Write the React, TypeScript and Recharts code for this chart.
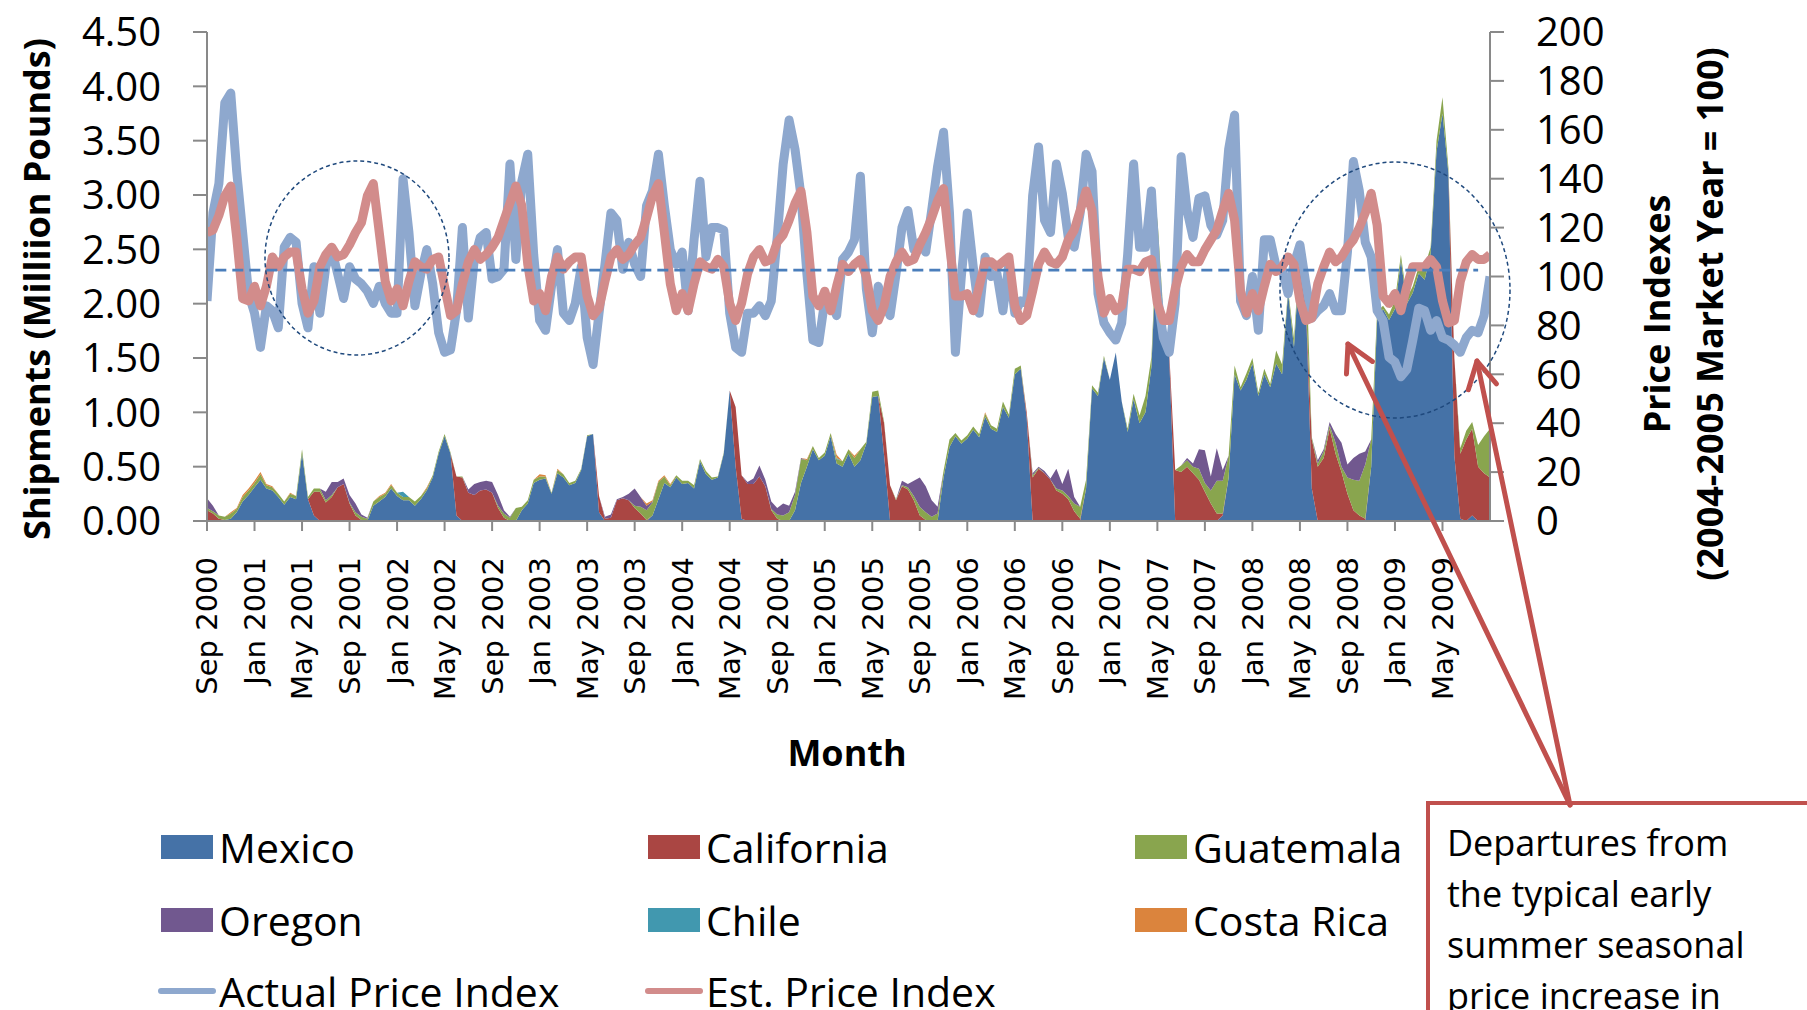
import React from "react";
import { ComposedChart, Area, Line, XAxis, YAxis, ReferenceLine } from "recharts";

// ---------- categories: half-month periods, expressed as months since Sep 2000 ----------
const tickLabels = [
  "Sep 2000", "Jan 2001", "May 2001", "Sep 2001", "Jan 2002", "May 2002", "Sep 2002",
  "Jan 2003", "May 2003", "Sep 2003", "Jan 2004", "May 2004", "Sep 2004", "Jan 2005",
  "May 2005", "Sep 2005", "Jan 2006", "May 2006", "Sep 2006", "Jan 2007", "May 2007",
  "Sep 2007", "Jan 2008", "May 2008", "Sep 2008", "Jan 2009", "May 2009",
];
const tickPositions = tickLabels.map((_, i) => i * 4);
const leftTicks = [0, 0.5, 1, 1.5, 2, 2.5, 3, 3.5, 4, 4.5];
const rightTicks = [0, 20, 40, 60, 80, 100, 120, 140, 160, 180, 200];

// ---------- shipments (million pounds), one row per market year (Sep..Aug, half-months) ----------
const mexico = [
  0,0,0,0.01, 0.02,0.08,0.18,0.24, 0.31,0.38,0.30,0.28, 0.22,0.15,0.22,0.20, 0.62,0.20,0.05,0, 0,0,0,0,
  0,0,0,0, 0.14,0.18,0.22,0.30, 0.23,0.19,0.19,0.14, 0.20,0.28,0.40,0.62, 0.78,0.62,0.05,0, 0,0,0,0,
  0,0,0,0, 0,0.10,0.16,0.35, 0.38,0.39,0.25,0.44, 0.40,0.33,0.35,0.47, 0.78,0.80,0.08,0, 0,0,0,0,
  0,0,0,0.05, 0.20,0.35,0.31,0.40, 0.34,0.35,0.30,0.55, 0.43,0.38,0.40,0.62, 1.20,0.50,0.02,0, 0,0,0,0,
  0,0,0,0.10, 0.35,0.50,0.66,0.56, 0.60,0.78,0.53,0.50, 0.62,0.50,0.56,0.71, 1.14,1.15,0.60,0, 0,0,0,0,
  0,0,0,0, 0.40,0.68,0.78,0.71, 0.76,0.84,0.77,0.96, 0.85,0.82,1.05,0.95, 1.35,1.40,0.95,0, 0,0,0,0,
  0,0,0,0, 0.30,1.22,1.15,1.50, 1.30,1.55,1.10,0.82, 1.12,0.90,1.00,1.42, 2.70,1.90,1.50,0, 0,0,0,0,
  0,0,0,0.05, 0.40,1.35,1.20,1.30, 1.45,1.15,1.35,1.23, 1.45,1.35,2.10,1.60, 2.46,2.00,0.30,0, 0,0,0,0,
  0,0,0,0, 0.50,1.85,1.95,1.85, 1.95,2.40,2.00,2.10, 2.28,2.22,2.46,3.40, 3.75,3.20,0.60,0.02, 0,0.05,0,0,
  0,
];
const california = [
  0.10,0.07,0.02,0, 0,0,0,0, 0,0,0,0, 0,0,0,0, 0,0,0.22,0.27, 0.17,0.22,0.31,0.34,
  0.16,0.05,0.01,0, 0,0,0,0, 0,0,0,0, 0,0,0,0, 0,0,0.36,0.40, 0.26,0.24,0.28,0.29,
  0.26,0.12,0.03,0, 0,0,0,0, 0,0,0,0, 0,0,0,0, 0,0,0.15,0.02, 0.03,0.19,0.21,0.19,
  0.12,0.07,0.01,0, 0,0,0,0, 0,0,0,0, 0,0,0,0, 0,0.55,0.40,0.34, 0.34,0.41,0.32,0.10,
  0.02,0,0,0, 0,0,0,0, 0,0,0,0, 0,0,0,0, 0,0,0.30,0.33, 0.19,0.32,0.29,0.19,
  0.05,0.01,0,0, 0,0,0,0, 0,0,0,0, 0,0,0,0, 0,0,0.05,0.40, 0.48,0.44,0.38,0.28,
  0.25,0.20,0.09,0.02, 0,0,0,0, 0,0,0,0, 0,0,0,0, 0,0,0.05,0.47, 0.45,0.50,0.44,0.38,
  0.27,0.16,0.07,0.02, 0,0,0,0, 0,0,0,0, 0,0,0,0, 0,0,0.45,0.50, 0.58,0.85,0.62,0.45,
  0.25,0.10,0.05,0.02, 0,0,0,0, 0,0,0,0, 0,0,0,0, 0,0,0.90,0.60, 0.75,0.80,0.50,0.44,
  0.40,
];
const guatemala = [
  0.02,0.02,0.03,0.03, 0.05,0.03,0.04,0.04, 0.04,0.05,0.03,0.03, 0.03,0.03,0.03,0.03, 0.04,0.02,0.03,0.03, 0.02,0.02,0,0,
  0.01,0.03,0.03,0.02, 0.04,0.04,0.03,0.03, 0.03,0.03,0.03,0.04, 0.03,0.02,0.02,0.02, 0.02,0.01,0,0.01, 0,0,0,0,
  0,0.02,0.04,0.03, 0.12,0.03,0.03,0.03, 0.03,0.02,0.01,0.03, 0.03,0.02,0.02,0.01, 0.01,0,0,0, 0,0,0,0,
  0.02,0.06,0.09,0.12, 0.16,0.06,0.02,0.02, 0.03,0.02,0.03,0.02, 0.03,0.02,0.01,0.01, 0,0,0,0, 0,0,0,0.01,
  0.04,0.05,0.08,0.14, 0.22,0.06,0.03,0.02, 0.03,0.03,0.04,0.05, 0.04,0.08,0.10,0.02, 0.05,0.05,0.01,0, 0.01,0.01,0.02,0.04,
  0.08,0.07,0.04,0.07, 0.06,0.07,0.03,0.03, 0.03,0.03,0.03,0.03, 0.03,0.03,0.05,0.03, 0.05,0.03,0,0.02, 0.01,0,0,0.02,
  0.03,0.03,0.07,0.11, 0.08,0.03,0.03,0.02, 0,0,0,0.03, 0.05,0.07,0.15,0.09, 0.10,0.02,0,0, 0.06,0.06,0.06,0.10,
  0.08,0.12,0.30,0.30, 0.20,0.08,0.03,0.06, 0.05,0.03,0.05,0.03, 0.12,0.09,0.03,0.08, 0.06,0.45,0.02,0.03, 0.06,0.03,0.10,0.05,
  0.15,0.28,0.32,0.50, 0.25,0.08,0.03,0.05, 0.08,0.05,0.05,0.06, 0.06,0.12,0.06,0.10, 0.15,0.05,0,0.05, 0.08,0.06,0.20,0.34,
  0.45,
];
const oregon = [
  0.09,0.05,0,0, 0,0,0,0, 0,0,0,0, 0,0,0,0, 0,0,0,0, 0.08,0.12,0.05,0.05,
  0.07,0.08,0.02,0.01, 0,0,0,0, 0,0,0,0, 0,0,0,0, 0,0,0,0, 0.03,0.10,0.08,0.08,
  0.10,0.10,0.03,0.01, 0,0,0,0, 0,0,0,0, 0,0,0,0, 0,0,0,0.02, 0.03,0.01,0.01,0.06,
  0.16,0.09,0.04,0.01, 0,0,0,0, 0,0,0,0, 0,0,0,0, 0,0,0,0.02, 0.05,0.10,0.06,0.07,
  0.06,0.11,0.06,0.03, 0.01,0,0,0, 0,0,0,0, 0,0,0,0, 0,0,0,0, 0,0.04,0.03,0.14,
  0.27,0.24,0.15,0.06, 0,0,0,0, 0,0,0,0, 0,0,0,0, 0,0,0,0.02, 0.01,0.02,0.01,0.18,
  0.06,0.25,0.06,0, 0,0,0,0, 0,0,0,0, 0,0,0,0, 0,0,0,0, 0,0.02,0.03,0.18,
  0.30,0.13,0.30,0.10, 0,0,0,0, 0,0,0,0, 0,0,0,0, 0,0,0,0.03, 0.02,0.03,0.08,0.22,
  0.12,0.20,0.25,0.12, 0,0,0,0, 0,0,0,0, 0,0,0,0, 0,0,0,0, 0,0,0,0,
  0,
];
const chile = [
  0,0,0,0, 0,0,0,0, 0,0,0,0, 0,0,0,0, 0,0,0,0, 0,0,0,0,
  0,0,0,0, 0,0,0,0, 0,0.05,0,0, 0,0,0,0, 0,0,0,0, 0,0,0,0,
  0,0,0,0, 0,0,0,0, 0,0,0,0, 0,0,0,0, 0,0,0,0, 0,0,0,0,
  0,0,0,0, 0,0,0,0, 0,0,0,0, 0,0,0,0, 0,0,0,0, 0,0,0,0,
  0,0,0,0, 0,0,0,0, 0,0,0.01,0, 0,0,0,0, 0,0,0,0, 0,0,0,0,
  0,0,0,0, 0,0,0,0, 0,0,0,0, 0,0,0,0, 0,0,0,0, 0,0,0,0,
  0,0,0,0, 0,0,0,0, 0,0,0,0, 0,0,0,0, 0,0,0,0, 0,0,0,0,
  0,0,0,0, 0,0,0,0, 0,0,0,0, 0,0,0,0, 0,0,0,0, 0,0,0,0,
  0,0,0,0, 0,0,0,0, 0,0,0,0, 0,0,0,0, 0,0,0,0, 0,0,0,0,
  0,
];
const costaRica = [
  0,0,0,0, 0.01,0.01,0.02,0.02, 0.02,0.02,0.01,0.01, 0,0,0.01,0, 0,0,0,0, 0,0,0,0,
  0,0,0,0, 0,0.01,0.01,0.01, 0,0,0,0, 0,0.01,0,0, 0,0,0,0, 0,0,0,0,
  0,0,0,0, 0,0,0,0, 0.02,0.01,0,0.01, 0,0,0,0, 0,0,0,0, 0,0,0,0,
  0,0,0.02,0.01, 0.01,0.01,0.01,0, 0,0,0,0, 0,0,0,0, 0,0,0,0, 0,0,0,0,
  0,0,0,0, 0,0.01,0,0, 0,0,0.03,0, 0,0.02,0,0, 0,0,0,0, 0,0,0,0,
  0,0,0,0, 0,0,0,0, 0,0,0,0.01, 0,0,0,0, 0,0,0,0, 0,0,0,0,
  0,0,0,0, 0,0,0,0, 0,0,0,0, 0,0,0,0, 0,0,0,0, 0,0,0,0,
  0,0,0,0, 0,0,0,0, 0,0,0,0, 0,0,0,0, 0,0,0,0, 0,0,0,0,
  0,0,0,0, 0,0,0,0, 0,0,0,0, 0,0,0,0, 0,0,0,0, 0,0,0,0,
  0,
];

// ---------- price indexes (2004-2005 market year = 100) ----------
const actualIndex = [
  90,126,138,171, 175,143,118,93, 85,71,88,86, 79,112,116,114, 89,79,104,85, 104,111,101,91,
  104,99,97,94, 89,96,89,85, 85,140,118,88, 101,111,97,77, 69,70,86,120, 83,107,116,118,
  99,100,103,146, 107,139,150,109, 82,78,96,111, 85,82,89,104, 75,64,85,105, 126,123,103,114,
  105,100,129,135, 150,129,111,105, 110,86,115,139, 108,120,120,119, 85,71,69,85, 85,88,84,90,
  116,146,164,152, 133,101,74,73, 90,90,84,107, 110,115,141,95, 77,96,89,84, 101,120,127,111,
  114,110,127,145, 159,126,69,100, 126,104,85,108, 100,101,86,105, 85,90,89,133, 153,123,118,146,
  134,116,112,126, 150,143,93,81, 77,74,81,109, 146,112,112,135, 92,75,69,89, 149,127,116,132,
  133,121,117,123, 152,166,90,84, 100,78,115,115, 104,103,93,105, 113,97,83,86, 88,93,86,86,
  110,147,135,114, 108,86,82,67, 65,59,62,74, 87,86,78,82, 75,74,72,69, 75,78,77,84,
  100,
];
const estIndex = [
  118,119,125,133, 137,116,91,90, 96,88,96,108, 104,108,110,110, 95,85,90,104, 109,112,108,109,
  113,118,122,133, 138,118,98,90, 95,88,98,106, 104,103,107,108, 96,84,86,97, 106,111,107,109,
  112,116,123,130, 137,129,105,90, 93,86,100,108, 103,106,108,108, 92,84,87,98, 108,111,107,109,
  113,116,124,133, 138,118,97,86, 93,86,97,106, 104,103,107,104, 89,82,89,101, 108,111,106,107,
  114,117,123,130, 135,118,92,88, 94,86,96,105, 102,105,107,100, 86,82,88,100, 106,110,106,107,
  113,118,124,131, 136,113,92,92, 93,86,96,106, 106,104,106,108, 88,82,84,94, 105,110,106,105,
  108,115,119,127, 135,127,100,85, 91,86,88,103, 103,102,106,107, 89,82,82,95, 104,109,106,106,
  111,115,119,127, 134,123,94,85, 93,86,96,105, 102,104,108,105, 90,82,83,97, 104,110,106,108,
  112,115,120,126, 134,121,92,89, 93,86,96,104, 104,104,107,104, 90,81,82,98, 106,109,107,107,
  109,
];
const benchmarkIndex = 102.6;

const periods = actualIndex.map((_, i) => i / 2); // months since Sep 2000

const areaSeries = [
  { key: "mexico", name: "Mexico", color: "#4572A7", values: mexico },
  { key: "california", name: "California", color: "#AA4643", values: california },
  { key: "guatemala", name: "Guatemala", color: "#89A54E", values: guatemala },
  { key: "oregon", name: "Oregon", color: "#71588F", values: oregon },
  { key: "chile", name: "Chile", color: "#4198AF", values: chile },
  { key: "costaRica", name: "Costa Rica", color: "#DB843D", values: costaRica },
];
const lineSeries = [
  { key: "actual", name: "Actual Price Index", color: "#8EA8CE", values: actualIndex },
  { key: "est", name: "Est. Price Index", color: "#D28C8B", values: estIndex },
];

const data = periods.map((m, i) => {
  const row: Record<string, number> = { m };
  areaSeries.forEach((s) => (row[s.key] = s.values[i]));
  lineSeries.forEach((s) => (row[s.key] = s.values[i]));
  return row;
});

const FONT = "'Open Sans', 'Noto Sans', sans-serif";
const AXIS = "#898989";
const RED = "#C0504D";
const LINE_W = 9;

const XTick = (props: any) => {
  const { x, payload } = props;
  const label = tickLabels[Math.round(payload.value / 4)];
  return (
    <g transform={`translate(${x},557)`}>
      <text transform="rotate(-90)" textAnchor="end" dy="0.36em" fontSize={29}
        fontFamily="'DejaVu Sans', sans-serif" fill="#000">{label}</text>
    </g>
  );
};

function arrowHead(tip: [number, number], tail: [number, number], len = 30, ang = 0.5) {
  const dx = tail[0] - tip[0], dy = tail[1] - tip[1];
  const L = Math.hypot(dx, dy);
  const ux = dx / L, uy = dy / L;
  const rot = (a: number) => [tip[0] + len * (ux * Math.cos(a) - uy * Math.sin(a)), tip[1] + len * (ux * Math.sin(a) + uy * Math.cos(a))];
  const p1 = rot(ang), p2 = rot(-ang);
  return `M${p1[0]},${p1[1]} L${tip[0]},${tip[1]} L${p2[0]},${p2[1]}`;
}

const legendCols = [161, 648, 1135];
const legendRows = [847, 920, 991];

export default function App() {
  const arrowBase: [number, number] = [1570, 805];
  const tips: [number, number][] = [[1348, 344], [1477, 361]];
  const legendItems = [...areaSeries.map((s) => ({ ...s, kind: "area" })), ...lineSeries.map((s) => ({ ...s, kind: "line" }))];
  return (
    <div style={{ position: "relative", width: 1807, height: 1010, overflow: "hidden", background: "#fff" }}>
      <style>{`body{margin:0;background:#fff}`}</style>
      <ComposedChart width={1807} height={1010} data={data} margin={{ top: 32, right: 0, bottom: 0, left: 0 }}>
        <XAxis dataKey="m" type="number" domain={[0, 108]} ticks={tickPositions} interval={0}
          tick={<XTick />} tickSize={10} height={489} allowDataOverflow
          axisLine={{ stroke: AXIS, strokeWidth: 2 }} tickLine={{ stroke: AXIS, strokeWidth: 2 }} />
        <YAxis yAxisId="left" orientation="left" domain={[0, 4.5]} ticks={leftTicks} interval={0} width={207}
          tickSize={14} tickMargin={32} tickFormatter={(v: number) => v.toFixed(2)}
          tick={{ fontSize: 40, fill: "#000", fontFamily: FONT }}
          axisLine={{ stroke: AXIS, strokeWidth: 2 }} tickLine={{ stroke: AXIS, strokeWidth: 2 }} />
        <YAxis yAxisId="right" orientation="right" domain={[0, 200]} ticks={rightTicks} interval={0} width={317}
          tickSize={14} tickMargin={32}
          tick={{ fontSize: 40, fill: "#000", fontFamily: FONT, textAnchor: "start" }}
          axisLine={{ stroke: AXIS, strokeWidth: 2 }} tickLine={{ stroke: AXIS, strokeWidth: 2 }} />
        {areaSeries.map((s) => (
          <Area key={s.key} yAxisId="left" type="linear" dataKey={s.key} name={s.name} stackId="ship"
            stroke="none" fill={s.color} fillOpacity={1} isAnimationActive={false} dot={false} activeDot={false} />
        ))}
        {lineSeries.map((s) => (
          <Line key={s.key} yAxisId="right" type="linear" dataKey={s.key} name={s.name} stroke={s.color}
            strokeWidth={LINE_W} dot={false} activeDot={false} isAnimationActive={false} strokeLinejoin="round" />
        ))}
        <ReferenceLine yAxisId="right" segment={[{ x: 0.7, y: benchmarkIndex }, { x: 107, y: benchmarkIndex }]}
          stroke="#4A7EBB" strokeWidth={2.7} strokeDasharray="11 6" />
      </ComposedChart>
      <svg width={1807} height={1010} style={{ position: "absolute", left: 0, top: 0, pointerEvents: "none" }}>
        {/* axis titles */}
        <text transform="translate(36,289) rotate(-90)" textAnchor="middle" dominantBaseline="central"
          fontSize={36} fontWeight="bold" fontFamily={FONT}>Shipments (Milliion Pounds)</text>
        <text transform="translate(1656,314) rotate(-90)" textAnchor="middle" dominantBaseline="central"
          fontSize={36} fontWeight="bold" fontFamily={FONT}>Price Indexes</text>
        <text transform="translate(1709,314) rotate(-90)" textAnchor="middle" dominantBaseline="central"
          fontSize={36} fontWeight="bold" fontFamily={FONT}>(2004-2005 Market Year = 100)</text>
        <text x={847} y={752} textAnchor="middle" dominantBaseline="central" fontSize={36} fontWeight="bold"
          fontFamily={FONT}>Month</text>
        {/* dotted circles */}
        <ellipse cx={357} cy={258} rx={92} ry={97} fill="none" stroke="#1F497D" strokeWidth={1.5} strokeDasharray="4 3" />
        <ellipse cx={1395} cy={290} rx={115} ry={128} fill="none" stroke="#1F497D" strokeWidth={1.5} strokeDasharray="4 3" />
        {/* legend */}
        {legendItems.map((it, i) => {
          const cx = legendCols[i % 3];
          const cy = legendRows[Math.floor(i / 3)];
          return (
            <g key={it.key}>
              {it.kind === "area" ? (
                <rect x={cx} y={cy - 12} width={52} height={24} fill={it.color} />
              ) : (
                <line x1={cx} x2={cx + 52} y1={cy} y2={cy} stroke={it.color} strokeWidth={6} strokeLinecap="round" />
              )}
              <text x={cx + 58} y={cy} dominantBaseline="central" fontSize={41} fontFamily={FONT}>{it.name}</text>
            </g>
          );
        })}
        {/* annotation */}
        <rect x={1428} y={803} width={500} height={300} fill="#fff" stroke={RED} strokeWidth={4} />
        {["Departures from", "the typical early", "summer seasonal", "price increase in"].map((t, i) => (
          <text key={i} x={1447} y={842 + i * 51} dominantBaseline="central" fontSize={36} fontFamily={FONT}>{t}</text>
        ))}
        {tips.map((tp, i) => (
          <g key={i} stroke={RED} strokeWidth={5} fill="none" strokeLinecap="round" strokeLinejoin="round">
            <line x1={arrowBase[0]} y1={arrowBase[1]} x2={tp[0]} y2={tp[1]} />
            <path d={arrowHead(tp, arrowBase)} />
          </g>
        ))}
      </svg>
    </div>
  );
}
